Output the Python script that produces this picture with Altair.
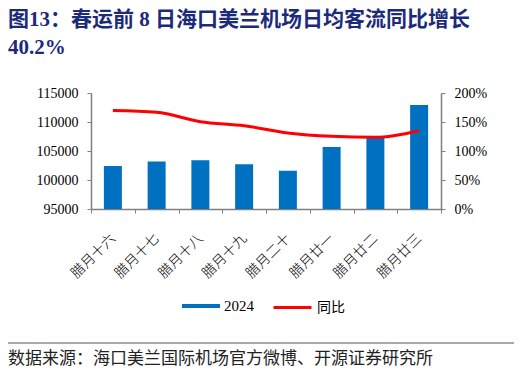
import altair as alt
import pandas as pd

categories = ["腊月十六", "腊月十七", "腊月十八", "腊月十九", "腊月二十", "腊月廿一", "腊月廿二", "腊月廿三"]
flow_2024 = [102400, 103200, 103400, 102700, 101600, 105700, 107500, 112950]
yoy = [1.70, 1.667, 1.505, 1.436, 1.31, 1.253, 1.236, 1.35]

left_ticks = [95000, 100000, 105000, 110000, 115000]
right_ticks = [0, 0.5, 1.0, 1.5, 2.0]

title_text = "图13：春运前 8 日海口美兰机场日均客流同比增长\n40.2%"
source_text = "数据来源：海口美兰国际机场官方微博、开源证券研究所"

SERIF = "'Times New Roman', 'Liberation Serif', 'Noto Sans CJK SC'"
CJK = "'Noto Sans CJK SC', 'Liberation Serif'"

df = pd.DataFrame({"cat": categories, "flow": flow_2024, "yoy": yoy})

x_enc = alt.X(
    "cat:N",
    sort=categories,
    title=None,
    scale=alt.Scale(paddingInner=0, paddingOuter=0),
    axis=alt.Axis(
        labelAngle=-45,
        labelAlign="right",
        labelBaseline="middle",
        labelFont=CJK,
        labelFontSize=14,
        labelFontWeight=300,
        labelColor="#000000",
        labelPadding=23,
        tickBand="extent",
        tickSize=4,
        tickColor="#7f7f7f",
        domainColor="#7f7f7f",
        domainWidth=1.5,
        grid=False,
    ),
)

bars = (
    alt.Chart(df)
    .transform_calculate(s="'2024'")
    .mark_bar(size=18, clip=True)
    .encode(
        x=x_enc,
        y=alt.Y(
            "flow:Q",
            title=None,
            scale=alt.Scale(domain=[95000, 115000], zero=False, nice=False),
            axis=alt.Axis(
                values=left_ticks,
                format="d",
                labelFont=SERIF,
                labelFontSize=14,
                labelColor="#000000",
                tickSize=4,
                labelPadding=9,
                tickColor="#7f7f7f",
                domainColor="#7f7f7f",
                domainWidth=1.5,
                grid=False,
            ),
        ),
        fill=alt.Fill(
            "s:N",
            scale=alt.Scale(domain=["2024"], range=["#0070C0"]),
            legend=alt.Legend(
                title=None,
                orient="none",
                legendX=91,
                legendY=194,
                padding=0,
                symbolType="M-1,-0.105H1V0.105H-1Z",
                symbolSize=1444,
                symbolStrokeWidth=0,
                labelFont=SERIF,
                labelFontSize=15,
                labelColor="#000000",
                labelOffset=4,
            ),
        ),
    )
)

line = (
    alt.Chart(df)
    .transform_calculate(t="'同比'")
    .mark_line(interpolate="monotone", strokeWidth=3)
    .encode(
        x=alt.X("cat:N", sort=categories),
        y=alt.Y(
            "yoy:Q",
            title=None,
            scale=alt.Scale(domain=[0, 2], nice=False),
            axis=alt.Axis(
                orient="right",
                values=right_ticks,
                format=".0%",
                labelFont=SERIF,
                labelFontSize=14,
                labelColor="#000000",
                tickSize=4,
                labelPadding=9,
                tickColor="#7f7f7f",
                domainColor="#7f7f7f",
                domainWidth=1.5,
                grid=False,
            ),
        ),
        stroke=alt.Stroke(
            "t:N",
            scale=alt.Scale(domain=["同比"], range=["#FF0000"]),
            legend=alt.Legend(
                title=None,
                orient="none",
                legendX=181,
                legendY=194,
                padding=0,
                symbolType="stroke",
                symbolSize=1444,
                symbolStrokeWidth=3,
                labelFont=CJK,
                labelFontSize=14,
                labelColor="#000000",
                labelOffset=4,
            ),
        ),
    )
)

one = pd.DataFrame({"txt": [source_text], "ttl": [title_text]})

title_mark = (
    alt.Chart(one)
    .mark_text(
        align="left",
        baseline="top",
        font=SERIF,
        fontSize=21,
        fontWeight="bold",
        lineBreak="\n",
        lineHeight=28,
        color="#1c2a7a",
    )
    .encode(x=alt.value(-83), y=alt.value(-84), text="ttl:N")
)

sep = (
    alt.Chart(one)
    .mark_rule(color="#8c8c8c", strokeWidth=1.5)
    .encode(x=alt.value(-83), x2=alt.value(425), y=alt.value(250))
)

src = (
    alt.Chart(one)
    .mark_text(align="left", baseline="middle", font=CJK, fontSize=17, color="#222222")
    .encode(x=alt.value(-83), y=alt.value(266), text="txt:N")
)

chart = (
    alt.layer(bars, line, sep, src, title_mark)
    .resolve_scale(y="independent", fill="independent", stroke="independent")
    .properties(
        width=350,
        height=116,
        autosize=alt.AutoSizeParams(type="none"),
        padding={"left": 83, "top": 85, "right": 73, "bottom": 162},
    )
    .configure_view(stroke=None)
)

chart.save("out.html", embed_options={"renderer": "svg", "actions": False})
